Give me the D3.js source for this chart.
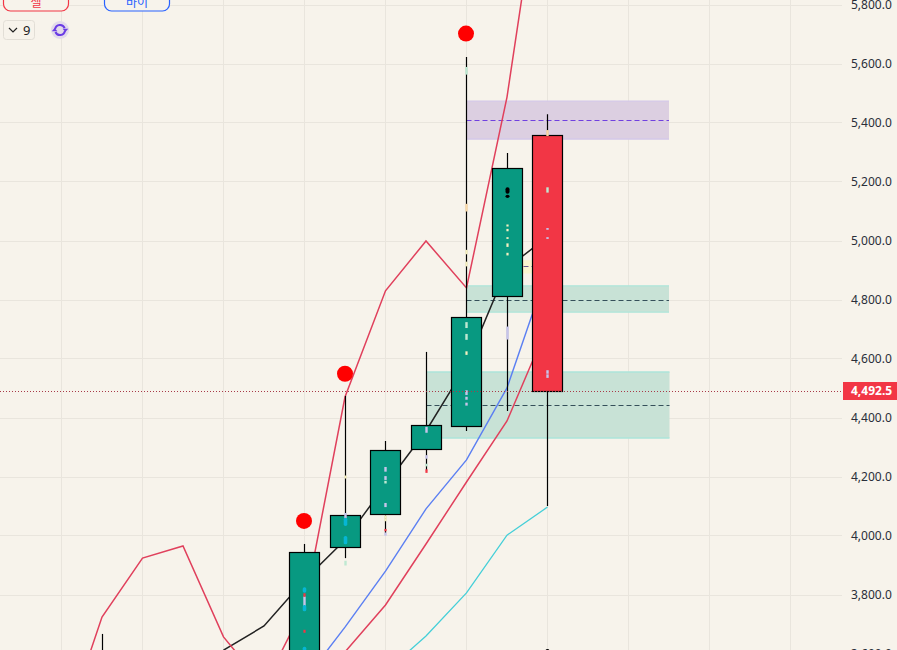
<!DOCTYPE html>
<html>
<head>
<meta charset="utf-8">
<style>
  html, body { margin: 0; padding: 0; background: #f7f3eb; overflow: hidden; }
  svg { display: block; }
  text { font-family: "Noto Sans", Roboto, sans-serif; }
</style>
<script src="https://cdn.jsdelivr.net/npm/d3@7"></script>
</head>
<body>
<svg id="chart" width="897" height="650"></svg>
<script>
// Candles by bar number
const barIndex = [1, 6, 7, 8, 9, 10, 11, 12];
const opens    = [3450, 3500, 3963, 4075, 4295, 4373, 4812, 5359];
const closes   = [3520, 3946, 4070, 4292, 4376, 4742, 5247, 4492.5];
const highs    = [3668, 3973, 4475, 4322, 4624, 5624, 5298, 5430];
const lows     = [3400, 3450, 3925, 4010, 4222, 4356, 4424, 4102];

// Moving averages, one value per bar starting at the bar in *Start
const emaRedStart = 0;
const emaRed   = [3319, 3725, 3925, 3966, 3658, 3491, 3763, 4471, 4831, 5000, 4841, 5488, 6404];
const emaBlackStart = 4;
const emaBlack = [3613, 3695, 3851, 3986, 4173, 4356, 4580, 4908, 5014];
const emaBlueStart = 6;
const emaBlue  = [3512, 3691, 3881, 4092, 4258, 4502, 4902];
const emaLowStart = 6;
const emaLow   = [3444, 3607, 3766, 3973, 4183, 4390, 4712];
const emaCyanStart = 8;
const emaCyan  = [3539, 3661, 3807, 4003, 4098];

// Price zones: first bar, last bar, top, bottom, mid level
const zonePurple = [10, 15, 5474, 5346, 5409];
const zoneGreenA = [10, 15, 4848, 4759, 4800];
const zoneGreenB = [9, 15, 4556, 4332, 4444];
const zoneYellow = [11, 12, 4932, 4892, 4912];

// Signal dots: bar, price
const signalBars   = [6, 7, 10];
const signalPrices = [4051, 4550, 5703];

// Tiny order ticks along the wicks: bar, upper price, lower price
const ticksCyan  = [[6,3826,3808],[6,3766,3745],[6,3625,3605],[7,4062,4034],[7,4000,3972]];
const ticksRed   = [[6,3806,3794],[6,3682,3672],[9,4226,4214],[8,4024,4016]];
const ticksLilac = [[6,3795,3760],[7,4078,4060],[8,4234,4218],[8,4203,4190],[8,4112,4098],[8,4012,4001],
                    [9,4274,4262],[10,4494,4478],[10,4472,4462],[10,4452,4442],[11,4710,4666],
                    [12,5044,5038],[12,5013,5007],[12,4562,4550],[12,4548,4536],[9,4370,4350]];
const ticksMint  = [[7,3916,3900],[8,4187,4178],[9,4245,4236],[10,5590,5564],[10,4725,4705],[10,4685,4665],[12,5182,5164]];
const ticksCream = [[7,4205,4195],[8,4070,4058],[8,4058,4050],[10,4970,4955],[10,4930,4914],[10,4626,4614],
                    [11,5056,5049],[11,5041,5033],[11,5013,5007],[11,4992,4980],[11,4960,4951]];
const ticksTan   = [[10,5126,5100],[12,5376,5356]];
const ticksBlack = [[11,5182,5160],[11,5157,5146],[12,3617,3600]];

// Axis and last price
const priceTicks = [3600, 3800, 4000, 4200, 4400, 4600, 4800, 5000, 5200, 5400, 5600, 5800];
const gridBars = [0, 2, 4, 6, 8, 10, 12, 14, 16, 18];
const lastPrice = 4492.5;
const intervalLabel = "9";
const sellLabel = "셀";
const buyLabel = "바이";

const W = 897, H = 650, plotRight = 842;
const x = d3.scaleLinear().domain([0, 18]).range([61.5, 790.5]);
const y = d3.scaleLinear().domain([3600, 5800]).range([654, 5]);
const step = x(1) - x(0);
const svg = d3.select("#chart");
const snap = v => Math.floor(v) + 0.5;
const snapY = v => Math.round(v) + 0.5;

// Grid
const grid = svg.append("g").attr("stroke", "#e9e5dd").attr("stroke-width", 1);
grid.selectAll(".h").data(priceTicks).join("line")
  .attr("x1", 0).attr("x2", plotRight)
  .attr("y1", d => snap(y(d))).attr("y2", d => snap(y(d)));
grid.selectAll(".v").data(gridBars).join("line")
  .attr("y1", 0).attr("y2", H)
  .attr("x1", d => snap(x(d))).attr("x2", d => snap(x(d)));

// Zones
function drawZone(z, fill, edge, dash) {
  const [a, b, top, bot, mid] = z;
  const g = svg.append("g");
  g.append("rect").attr("x", snap(x(a))).attr("width", x(b) - x(a))
    .attr("y", y(top)).attr("height", y(bot) - y(top)).attr("fill", fill);
  [top, bot].forEach(v => g.append("line")
    .attr("x1", snap(x(a))).attr("x2", snap(x(a)) + x(b) - x(a)).attr("y1", y(v)).attr("y2", y(v))
    .attr("stroke", edge).attr("stroke-width", 1.4));
  g.append("line").attr("x1", snap(x(a))).attr("x2", snap(x(a)) + x(b) - x(a))
    .attr("y1", snap(y(mid))).attr("y2", snap(y(mid)))
    .attr("stroke", dash).attr("stroke-width", 1).attr("stroke-dasharray", "5,3");
}
drawZone(zonePurple, "#dccfe1", "#d3c7e8", "#7040e0");
drawZone(zoneGreenA, "#c8e2d6", "#ade5da", "#35505a");
drawZone(zoneGreenB, "#c8e2d6", "#ade5da", "#35505a");
drawZone(zoneYellow, "#faf5cf", "#faf5cf", "#6a5a90");

// Moving averages
function drawLine(values, start, color, width) {
  const line = d3.line().x((d, i) => x(start + i)).y(d => y(d));
  svg.append("path").attr("d", line(values)).attr("fill", "none")
    .attr("stroke", color).attr("stroke-width", width).attr("stroke-linejoin", "miter");
}
drawLine(emaCyan, emaCyanStart, "#45cfd8", 1.3);
drawLine(emaBlue, emaBlueStart, "#5b7ff2", 1.4);
drawLine(emaLow, emaLowStart, "#e0405c", 1.5);
drawLine(emaBlack, emaBlackStart, "#222222", 1.5);
drawLine(emaRed, emaRedStart, "#e0405c", 1.5);

// Candles
const candles = barIndex.map((b, i) => ({ b, o: opens[i], c: closes[i], h: highs[i], l: lows[i] }));
const bodyW = step * 0.74;
const cg = svg.append("g").selectAll("g").data(candles).join("g");
cg.append("line")
  .attr("x1", d => snap(x(d.b))).attr("x2", d => snap(x(d.b)))
  .attr("y1", d => y(d.h)).attr("y2", d => y(d.l))
  .attr("stroke", "#000").attr("stroke-width", 1.2);
cg.append("rect")
  .attr("x", d => snap(x(d.b)) - Math.round(bodyW / 2))
  .attr("width", Math.round(bodyW))
  .attr("y", d => snapY(y(Math.max(d.o, d.c))))
  .attr("height", d => snapY(y(Math.min(d.o, d.c))) - snapY(y(Math.max(d.o, d.c))))
  .attr("fill", d => d.c >= d.o ? "#089981" : "#f23645")
  .attr("stroke", "#000").attr("stroke-width", 1.2);

// Order ticks
function drawTicks(list, color, w, r) {
  svg.append("g").selectAll("rect").data(list).join("rect")
    .attr("x", d => snap(x(d[0])) - w / 2).attr("width", w)
    .attr("y", d => y(d[1])).attr("height", d => y(d[2]) - y(d[1]))
    .attr("rx", r).attr("fill", color);
}
drawTicks(ticksLilac, "#c6c4ea", 2.4, 0);
drawTicks(ticksMint, "#bfe8d2", 2.4, 0);
drawTicks(ticksCream, "#f6f0c0", 2.2, 0);
drawTicks(ticksTan, "#f8d8a8", 2.4, 0);
drawTicks(ticksRed, "#f23645", 2.2, 0);
drawTicks(ticksCyan, "#06b6d4", 3.6, 1.6);
drawTicks(ticksBlack, "#000000", 4, 2);

// Signal dots
svg.append("g").selectAll("circle").data(signalBars).join("circle")
  .attr("cx", d => snap(x(d)) - 0.5).attr("cy", (d, i) => y(signalPrices[i]))
  .attr("r", 8).attr("fill", "#ff0000");

// Last price line
svg.append("line").attr("x1", 0).attr("x2", plotRight)
  .attr("y1", snapY(y(lastPrice))).attr("y2", snapY(y(lastPrice)))
  .attr("stroke", "#a83a48").attr("stroke-width", 1).attr("stroke-dasharray", "1,2");

// Price axis
const axis = d3.axisRight(y).tickValues(priceTicks).tickSize(0).tickPadding(0).tickFormat(d3.format(",.1f"));
const axisG = svg.append("g").attr("transform", "translate(851,0)").call(axis);
axisG.select(".domain").remove();
axisG.selectAll("text").attr("font-size", 12).attr("fill", "#2a2e39")
  .style("font-family", '"Noto Sans", Roboto, sans-serif');

// Last price tag
svg.append("rect").attr("x", 843).attr("y", Math.round(y(lastPrice)) - 9).attr("width", 54).attr("height", 18).attr("fill", "#f23645");
svg.append("text").attr("x", 851).attr("y", y(lastPrice)).attr("dy", "0.35em")
  .attr("font-size", 12).attr("font-weight", 700).attr("fill", "#fff").text(d3.format(",.1f")(lastPrice));

// Trade buttons, partly scrolled off the top edge
function button(x0, color, label, cx) {
  svg.append("rect").attr("x", x0 + 0.5).attr("y", -20).attr("width", 65).attr("height", 31)
    .attr("rx", 7).attr("fill", "#f7f3eb").attr("stroke", color).attr("stroke-width", 1.2);
  svg.append("text").attr("x", cx).attr("y", 7).attr("text-anchor", "middle")
    .attr("font-size", 12).attr("fill", color)
    .style("font-family", '"Noto Sans CJK KR", sans-serif').text(label);
}
button(3, "#f23645", sellLabel, 36);
button(104, "#2962ff", buyLabel, 137);

// Interval selector
svg.append("rect").attr("x", 3.5).attr("y", 20.5).attr("width", 31).attr("height", 19).attr("rx", 3)
  .attr("fill", "#f7f3eb").attr("stroke", "#e2ded6");
svg.append("path").attr("d", "M9,28 L13,32 L17,28").attr("fill", "none").attr("stroke", "#222").attr("stroke-width", 1.2);
svg.append("text").attr("x", 23).attr("y", 34.5).attr("font-size", 13).attr("fill", "#222").text(intervalLabel);

// Refresh icon
svg.append("circle").attr("cx", 60).attr("cy", 30).attr("r", 9).attr("fill", "#e2daea");
const arc = d3.arc().innerRadius(4).outerRadius(6);
const icon = svg.append("g").attr("transform", "translate(60,30)").attr("fill", "#6a3be4");
icon.append("path").attr("d", arc({ startAngle: -1.4, endAngle: 1.2 }));
icon.append("path").attr("d", arc({ startAngle: 1.75, endAngle: 4.3 }));
icon.append("path").attr("d", "M2.6,-1.2 L8.2,-1.2 L5.4,2 Z");
icon.append("path").attr("d", "M-2.6,1.2 L-8.2,1.2 L-5.4,-2 Z");
</script>
</body>
</html>
